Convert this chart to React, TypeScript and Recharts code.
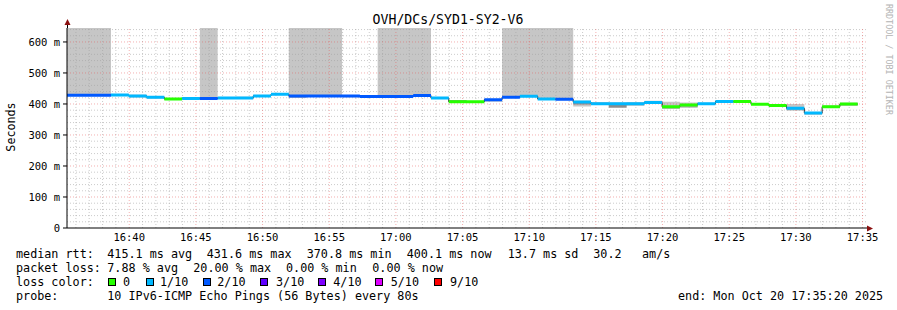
import { ComposedChart, Area, Line, XAxis, YAxis, ReferenceLine } from 'recharts';

const FONT = '"DejaVu Sans Mono", monospace';

// 80 s bins, first one starts 16:34:38 (seconds of the day)
const firstBinStart = 16 * 3600 + 34 * 60 + 38;
const binSeconds = 80;
const viewStart = 16 * 3600 + 35 * 60 + 20;
const viewEnd = 17 * 3600 + 35 * 60 + 20;
const yMax = 645;

const medianMs = [
  428, 428, 428, 429, 426, 422, 416, 418, 418, 419, 419, 426, 431.6, 426, 426,
  426, 426, 424, 424, 424, 427, 419, 407, 407, 414, 422, 425, 416, 415, 406,
  401, 401, 401, 405, 391, 397, 401, 408, 408, 399, 395, 386, 370.8, 391, 400.1,
];
const lossTenths = [
  2, 2, 2, 1, 1, 1, 0, 1, 2, 1, 1, 1, 1, 2, 2,
  2, 2, 2, 2, 2, 2, 1, 0, 0, 2, 2, 1, 1, 2, 1,
  1, 1, 1, 1, 0, 0, 1, 1, 0, 0, 0, 1, 1, 0, 0,
];
// smoke spread; 700 = pings above the top of the graph
const smokeLowMs = [
  428, 428, 428, 428, 421, 418, 414, 415, 416, 416, 416, 424, 430, 421, 424,
  424, 422, 423, 423, 423, 425, 417, 405, 406, 407, 421, 424, 415, 412, 392,
  398, 387, 395, 400, 384, 387, 398, 406, 405, 397, 392, 378, 365, 387, 394,
];
const smokeHighMs = [
  700, 700, 700, 430, 430, 424, 419, 421, 700, 422, 423, 428, 433, 700, 700,
  700, 428, 426, 700, 700, 700, 421, 413, 409, 416, 700, 700, 700, 700, 410,
  406, 405, 406, 410, 407, 405, 404, 411, 410, 402, 398, 400, 373, 395, 404,
];
// denser middle of the smoke, only where it shows
const coreLowMs = [
  null, null, null, null, 424, null, null, null, null, null, 418, null, null, 421, null,
  null, null, null, null, null, null, null, 409, null, 410, null, null, null, null, 398,
  null, 389, 396, null, 386, 392, null, null, null, null, null, 382, null, 388, 396,
];
const coreHighMs = [
  null, null, null, null, 428, null, null, null, null, null, 421, null, null, 424, null,
  null, null, null, null, null, null, null, 412, null, 413, null, null, null, null, 403,
  null, 398, 399, null, 389, 396, null, null, null, null, null, 386, null, 391, 399,
];

const xTickLabels = ['16:40', '16:45', '16:50', '16:55', '17:00', '17:05', '17:10', '17:15', '17:20', '17:25', '17:30', '17:35'];
const yTickValues = [0, 100, 200, 300, 400, 500, 600];

const lossLevels = [0, 1, 2, 3, 4, 5, 9];
const lossLabels = ['0', '1/10', '2/10', '3/10', '4/10', '5/10', '9/10'];
const lossColors = ['#26ff00', '#00b8ff', '#0059ff', '#5e00ff', '#7e00ff', '#dd00ff', '#ff0000'];

const toSeconds = (s: string) => {
  const [h, m] = s.split(':').map(Number);
  return h * 3600 + m * 60;
};
const fmtTime = (v: number) =>
  `${Math.floor(v / 3600)}:${String(Math.floor((v % 3600) / 60)).padStart(2, '0')}`;

const rows: any[] = [];
medianMs.forEach((m, i) => {
  const start = firstBinStart + i * binSeconds;
  const core = coreLowMs[i] == null ? null : [coreLowMs[i], coreHighMs[i]];
  const cell = { med: m, loss: lossTenths[i], smoke: [smokeLowMs[i], smokeHighMs[i]], core };
  rows.push({ t: start, ...cell });
  rows.push({ t: start + binSeconds, ...cell });
  rows.push({ t: start + binSeconds, med: null, loss: -1, smoke: null, core: null });
});

const minorY: number[] = [];
for (let v = 20; v < yMax; v += 20) if (v % 100 !== 0) minorY.push(v);
const majorY = yTickValues.filter((v) => v > 0);
const minorX: number[] = [];
const majorX: number[] = [];
for (let t = Math.ceil(viewStart / 60) * 60; t < viewEnd; t += 60) {
  if (t % 300 === 0) majorX.push(t);
  else minorX.push(t);
}

const GRID = 'rgba(160,160,160,0.55)';
const MGRID = 'rgba(230,80,80,0.45)';

const legendRows = [
  { y: 258, parts: [[16, 'median rtt:'], [107.3, '415.1 ms avg'], [206.7, '431.6 ms max'], [306.7, '370.8 ms min'], [406.7, '400.1 ms now'], [507.7, '13.7 ms sd'], [593.3, '30.2'], [642, 'am/s']] },
  { y: 272, parts: [[16, 'packet loss:'], [107.3, '7.88 % avg'], [193.3, '20.00 % max'], [286, '0.00 % min'], [372.3, '0.00 % now']] },
  { y: 286, parts: [[16, 'loss color:']] },
  { y: 300, parts: [[16, 'probe:'], [107.3, '10 IPv6-ICMP Echo Pings (56 Bytes) every 80s'], [678, 'end: Mon Oct 20 17:35:20 2025']] },
];
const boxX = [108, 146, 203, 260, 318, 375, 434];
const boxLabelX = [123, 160, 217.3, 276, 333.3, 390.7, 450];

export default function App() {
  return (
    <div style={{ position: 'absolute', left: 0, top: 0, width: 897, height: 310, background: '#fff' }}>
      <ComposedChart width={897} height={310} data={rows} margin={{ top: 28, right: 30, bottom: 62, left: 0 }}>
        <XAxis
          dataKey="t"
          type="number"
          domain={[viewStart, viewEnd]}
          allowDataOverflow
          ticks={xTickLabels.map(toSeconds)}
          tickFormatter={fmtTime}
          height={20}
          tickLine={false}
          tickSize={3}
          tickMargin={3}
          stroke="#000"
          tick={{ fill: '#000', fontSize: 10.5, fontFamily: FONT }}
        />
        <YAxis
          type="number"
          domain={[0, yMax]}
          allowDataOverflow
          ticks={yTickValues}
          tickFormatter={(v) => (v === 0 ? '0' : `${v} m`)}
          width={67}
          tickSize={4}
          tickMargin={3}
          stroke="#000"
          tick={{ fill: '#000', fontSize: 10.5, fontFamily: FONT }}
        />
        <Area
          dataKey="smoke"
          type="linear"
          stroke="none"
          fill="#c6c6c6"
          fillOpacity={1}
          connectNulls
          isAnimationActive={false}
        />
        <Area
          dataKey="core"
          type="linear"
          stroke="none"
          fill="#8c8c8c"
          fillOpacity={1}
          connectNulls={false}
          isAnimationActive={false}
        />
        {minorY.map((v) => (
          <ReferenceLine key={'my' + v} y={v} stroke={GRID} strokeDasharray="1 2" />
        ))}
        {minorX.map((t) => (
          <ReferenceLine key={'mx' + t} x={t} stroke={GRID} strokeDasharray="1 2" />
        ))}
        {majorY.map((v) => (
          <ReferenceLine key={'My' + v} y={v} stroke={MGRID} strokeDasharray="1 2" />
        ))}
        {majorX.map((t) => (
          <ReferenceLine key={'Mx' + t} x={t} stroke={MGRID} strokeDasharray="1 2" />
        ))}
        <Line
          dataKey="med"
          type="linear"
          stroke="#222"
          strokeWidth={1}
          dot={false}
          connectNulls
          isAnimationActive={false}
        />
        {lossLevels.map((lvl, i) => (
          <Line
            key={lvl}
            dataKey={(r: any) => (r.loss === lvl ? r.med : null)}
            type="linear"
            stroke={lossColors[i]}
            strokeWidth={3}
            dot={false}
            connectNulls={false}
            isAnimationActive={false}
          />
        ))}
      </ComposedChart>
      <svg
        width={897}
        height={310}
        style={{ position: 'absolute', left: 0, top: 0, pointerEvents: 'none' }}
        fontFamily={FONT}
      >
        <text x={448} y={24} textAnchor="middle" fontSize={13.2} fill="#000">
          OVH/DCs/SYD1-SY2-V6
        </text>
        <text x={15} y={127} textAnchor="middle" fontSize={11.7} fill="#000" transform="rotate(-90 15 127)">
          Seconds
        </text>
        <text x={886} y={4} fontSize={8.4} fill="#b4b4b4" transform="rotate(90 886 4)">
          RRDTOOL / TOBI OETIKER
        </text>
        <line x1={67.5} y1={22} x2={67.5} y2={28} stroke="#000" />
        <line x1={867} y1={228.5} x2={870} y2={228.5} stroke="#000" />
        <polygon points="64.5,25 70.5,25 67.5,19" fill="#8b1010" />
        <polygon points="867,225.5 867,231.5 873,228.5" fill="#8b1010" />
        {legendRows.map((r) =>
          r.parts.map(([x, s]) => (
            <text key={r.y + '-' + x} x={x as number} y={r.y} fontSize={11.75} fill="#000" style={{ whiteSpace: 'pre' }}>
              {s}
            </text>
          )),
        )}
        {lossColors.map((c, i) => (
          <g key={c}>
            <rect x={boxX[i] + 0.5} y={278.5} width={7} height={7} fill={c} stroke="#000" />
            <text x={boxLabelX[i]} y={286} fontSize={11.75} fill="#000">
              {lossLabels[i]}
            </text>
          </g>
        ))}
      </svg>
    </div>
  );
}
